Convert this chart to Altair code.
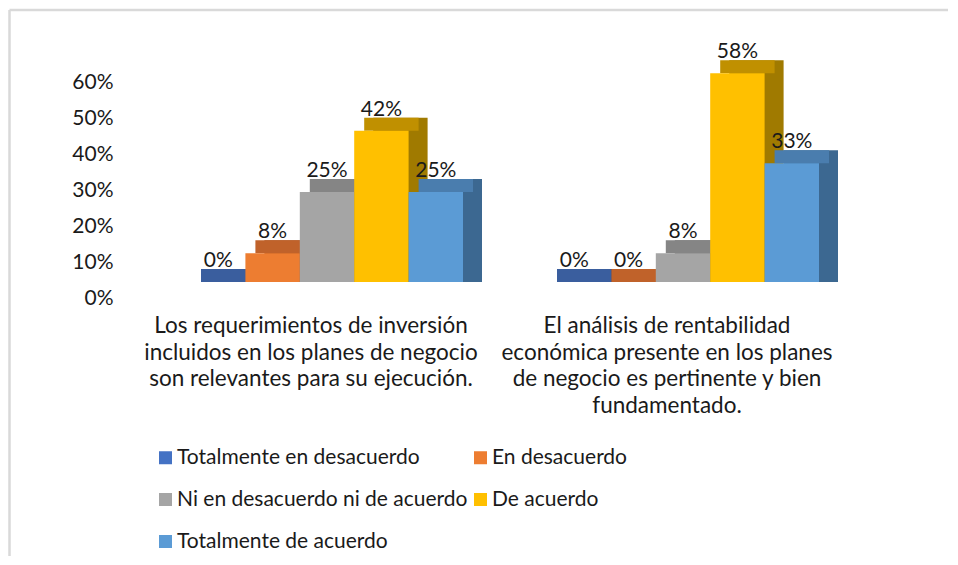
import altair as alt
import pandas as pd

categories = [
    "Los requerimientos de inversión\nincluidos en los planes de negocio\nson relevantes para su ejecución.",
    "El análisis de rentabilidad\neconómica presente en los planes\nde negocio es pertinente y bien\nfundamentado.",
]
responses = [
    "Totalmente en desacuerdo",
    "En desacuerdo",
    "Ni en desacuerdo ni de acuerdo",
    "De acuerdo",
    "Totalmente de acuerdo",
]
values_q1 = [0.00, 0.08, 0.25, 0.42, 0.25]
values_q2 = [0.00, 0.00, 0.08, 0.58, 0.33]
y_ticks = [0, 0.1, 0.2, 0.3, 0.4, 0.5, 0.6]

front_colors = ["#4472C4", "#ED7D31", "#A5A5A5", "#FFC000", "#5B9BD5"]
top_colors = ["#3A5E9E", "#C0622A", "#858585", "#C09000", "#4A7DAE"]
side_colors = ["#2E4A7E", "#9E4F1F", "#6E6E6E", "#A07A00", "#3C6891"]

FONT = "Lato"
rows = []
for cat, vals in zip(categories, [values_q1, values_q2]):
    for r, v in zip(responses, vals):
        rows.append({"category": cat, "response": r, "value": v})
df = pd.DataFrame(rows)

side_keys = [r + " (lado)" for r in responses]
top_keys = [r + " (tapa)" for r in responses]
color_scale = alt.Scale(domain=responses + top_keys + side_keys,
                        range=front_colors + top_colors + side_colors)
legend = alt.Legend(
    title=None, orient="none", legendX=-36, legendY=381, columns=2,
    direction="horizontal", values=responses,
    symbolType="square", symbolSize=169, symbolStrokeWidth=0,
    labelFont=FONT, labelFontSize=21, labelColor="#1a1a1a",
    labelOffset=1, columnPadding=2, rowPadding=20, labelLimit=0,
)
color_enc = alt.Color("key:N", scale=color_scale, legend=legend)

x_enc = alt.X("response:N", sort=responses, axis=None,
              scale=alt.Scale(paddingInner=0, paddingOuter=0))
y_axis = alt.Axis(
    title=None, domain=False, ticks=False, grid=False, values=y_ticks,
    format=".0%", labelFont=FONT, labelFontSize=21, labelColor="#1a1a1a",
    labelOffset=16, labelPadding=78,
)
y_scale = alt.Scale(domain=[0, 0.6], nice=False)
y_enc = alt.Y("value:Q", stack=None, scale=y_scale, axis=y_axis)

base = alt.Chart().encode(x=x_enc)

side = base.transform_calculate(
    key="datum.response + ' (lado)'"
).mark_bar(xOffset=19, x2Offset=19, yOffset=-13, y2Offset=-13).encode(
    y=y_enc, color=color_enc,
)
top = base.transform_calculate(
    key="datum.response + ' (tapa)'"
).mark_bar(xOffset=10, x2Offset=10, yOffset=-13).encode(
    y=y_enc, y2=alt.Y2("value:Q"), color=color_enc,
)
front = base.transform_calculate(
    key="datum.response"
).mark_bar().encode(
    y=y_enc, color=color_enc,
)
text = base.mark_text(baseline="alphabetic", dy=-15, font=FONT, fontSize=21, color="#1a1a1a").encode(
    y=y_enc,
    text=alt.Text("value:Q", format=".0%"),
)
cat_label = alt.Chart().transform_filter(
    alt.datum.response == responses[0]
).mark_text(
    lineBreak="\n", align="center", baseline="top", font=FONT, fontSize=22.5,
    lineHeight=26.5, color="#1a1a1a",
).encode(text="category:N", x=alt.value(120), y=alt.value(249))

first = (alt.datum.response == responses[0]) & (alt.datum.category == categories[0])
frame_top = alt.Chart().transform_filter(first).mark_rule(color="#D9D9D9", strokeWidth=2.5).encode(
    x=alt.value(-181.5), x2=alt.value(757), y=alt.value(-56)
)
frame_left = alt.Chart().transform_filter(first).mark_rule(color="#D9D9D9", strokeWidth=2.5).encode(
    x=alt.value(-181.5), y=alt.value(-56), y2=alt.value(490)
)

panel = (
    alt.layer(side, top, front, text, cat_label, frame_top, frame_left)
    .properties(width=272, height=216)
)

chart = (
    panel.facet(
        data=df,
        column=alt.Column("category:N", sort=categories, header=alt.Header(labels=False, title=None)),
        spacing=84,
    )
    .properties(padding=0, bounds="flush")
    .configure_view(stroke=None)
)

chart.save("out.html", embed_options={"renderer": "svg", "actions": False})
